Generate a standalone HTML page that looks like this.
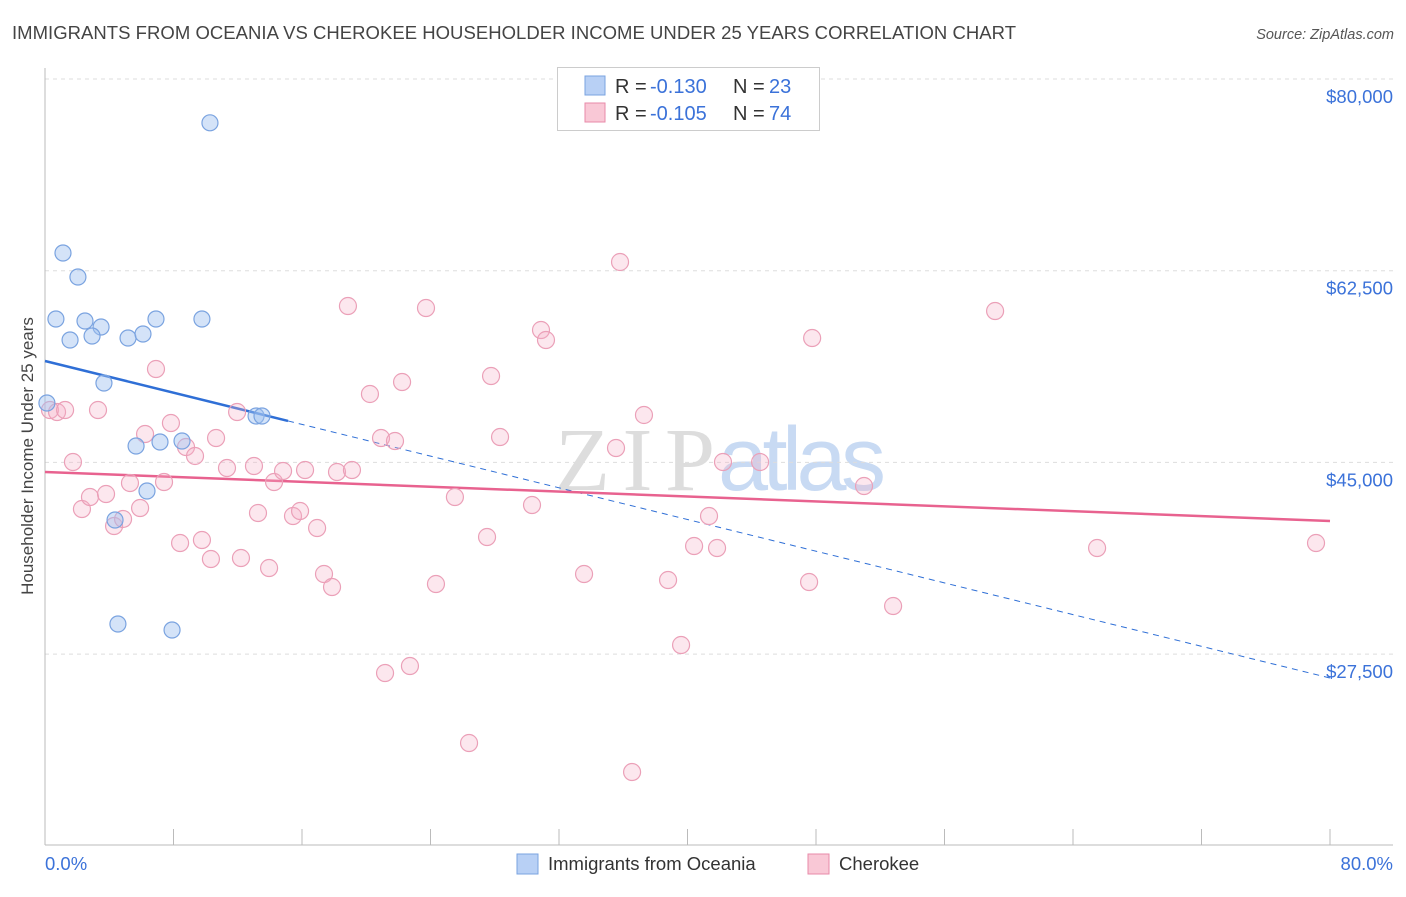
<!DOCTYPE html>
<html><head><meta charset="utf-8"><style>
body{margin:0;background:#fff;font-family:"Liberation Sans",sans-serif;}
</style></head><body>
<svg id="chart" width="1406" height="892" xmlns="http://www.w3.org/2000/svg" style="font-family:'Liberation Sans',sans-serif">
<text x="12" y="39" font-size="18.5" fill="#444" textLength="1004">IMMIGRANTS FROM OCEANIA VS CHEROKEE HOUSEHOLDER INCOME UNDER 25 YEARS CORRELATION CHART</text>
<text x="1394" y="39" font-size="14.5" fill="#555" font-style="italic" text-anchor="end">Source: ZipAtlas.com</text>
<text transform="translate(33,456) rotate(-90)" font-size="17" fill="#444" text-anchor="middle">Householder Income Under 25 years</text>
<g font-size="90">
<text x="555" y="490" fill="#ddd" font-family="Liberation Serif,serif" textLength="160">ZIP</text>
<text x="718" y="490" fill="#c8daf3" textLength="168">atlas</text>
</g>
<g id="grid"></g><g id="axes"></g><g id="trend"></g><g id="pts"></g>
<g>
<rect x="557.5" y="67.5" width="262" height="63" fill="#fff" stroke="#ccc"/>
<rect x="585" y="76" width="20" height="19" fill="#b8d0f5" stroke="#7aa3e0"/>
<rect x="585" y="103" width="20" height="19" fill="#f9c8d6" stroke="#e88aa8"/>
<text x="615" y="93" font-size="20" fill="#333">R =</text>
<text x="650" y="93" font-size="20" fill="#3b72d9">-0.130</text>
<text x="733" y="93" font-size="20" fill="#333">N =</text>
<text x="769" y="93" font-size="20" fill="#3b72d9">23</text>
<text x="615" y="120" font-size="20" fill="#333">R =</text>
<text x="650" y="120" font-size="20" fill="#3b72d9">-0.105</text>
<text x="733" y="120" font-size="20" fill="#333">N =</text>
<text x="769" y="120" font-size="20" fill="#3b72d9">74</text>
</g>
<g>
<rect x="517" y="854" width="21" height="20" fill="#b8d0f5" stroke="#7aa3e0"/>
<text x="548" y="870" font-size="18.5" fill="#333">Immigrants from Oceania</text>
<rect x="808" y="854" width="21" height="20" fill="#f9c8d6" stroke="#e88aa8"/>
<text x="839" y="870" font-size="18.5" fill="#333">Cherokee</text>
</g>
</svg>
<script>
const yTicks=[80000,62500,45000,27500];
const yTickLabels=["$80,000","$62,500","$45,000","$27,500"];
const xTickLabels=["0.0%","80.0%"];
const blueX=[10.27,1.12,2.05,0.68,2.49,3.49,6.91,9.77,1.56,2.93,5.17,6.10,3.67,0.12,13.14,13.51,5.67,7.16,8.53,6.35,4.36,4.54,7.91];
const blueY=[76000,64115,61925,58090,57908,57360,58090,58090,56173,56538,56356,56721,52248,50422,49235,49235,46497,46862,46953,42388,39741,30247,29700];
const pinkX=[0.31,0.75,1.25,3.30,1.74,2.30,2.80,3.80,4.30,4.86,5.29,5.92,6.23,6.91,7.41,7.84,8.41,8.78,9.34,9.77,10.33,10.65,11.33,11.96,12.20,13.01,13.26,13.95,14.26,14.82,15.44,15.88,16.19,16.94,17.37,17.87,18.18,18.86,19.11,20.23,20.92,21.17,21.79,22.23,22.72,23.72,24.34,25.52,26.40,27.52,27.77,28.33,30.32,30.88,31.19,33.56,35.55,35.80,36.55,37.29,38.79,39.60,40.41,41.34,41.84,42.21,44.52,47.57,47.76,50.99,52.80,59.15,65.50,79.13];
const pinkY=[49783,49600,49783,49783,45036,40745,41841,42115,39193,39832,43118,40836,47592,53526,43210,48596,37641,46405,45584,37915,36180,47227,44488,49600,36272,44671,40380,35359,43210,44214,40106,40562,44305,39011,34811,33625,44123,59277,44305,51244,47227,25773,46953,52339,26412,59094,33899,41841,19383,38189,52887,47318,41110,57086,56173,34811,46314,63294,16734,49327,34263,28330,37367,40106,37185,45036,45036,34081,56356,42845,31889,58820,37185,37641];
const blueTrend=[54257,25317];
const blueSolidEnd=15.13;
const pinkTrend=[44123,39650];

const NS="http://www.w3.org/2000/svg";
const X=v=>45+(v/80)*1285;
const Y=v=>79+(80000-v)/17500*191.7;
function mk(p,t,a){const e=document.createElementNS(NS,t);for(const k in a)e.setAttribute(k,a[k]);document.getElementById(p).appendChild(e);return e;}
yTicks.forEach((t,i)=>{
 const l=mk('grid','line',{x1:45,x2:1393,y1:Y(t),y2:Y(t),stroke:'#ddd','stroke-dasharray':'4,4'});
 
 
 const tx=mk('grid','text',{x:1393,y:Y(t)+24,'font-size':18.5,fill:'#3b72d9','text-anchor':'end'});
 tx.textContent=yTickLabels[i];
 
 
});
let a=mk('axes','line',{x1:45,x2:45,y1:68,y2:845,stroke:'#bbb'});


a=mk('axes','line',{x1:45,x2:1393,y1:845,y2:845,stroke:'#bbb'});


for(let i=0;i<=10;i++){const t=mk('axes','line',{x1:X(i*8),x2:X(i*8),y1:829,y2:845,stroke:'#bbb'});
 
 }
let xl=mk('axes','text',{x:45,y:870,'font-size':18.5,fill:'#3b72d9'});xl.textContent=xTickLabels[0];


xl=mk('axes','text',{x:1393,y:870,'font-size':18.5,fill:'#3b72d9','text-anchor':'end'});xl.textContent=xTickLabels[1];


const by=x=>blueTrend[0]+(blueTrend[1]-blueTrend[0])*x/80;
let tl=mk('trend','line',{x1:X(0),y1:Y(by(0)),x2:X(blueSolidEnd),y2:Y(by(blueSolidEnd)),stroke:'#2f6fd6','stroke-width':2.5});


tl=mk('trend','line',{x1:X(blueSolidEnd),y1:Y(by(blueSolidEnd)),x2:X(80),y2:Y(by(80)),stroke:'#2f6fd6','stroke-width':1,'stroke-dasharray':'6,5'});


tl=mk('trend','line',{x1:X(0),y1:Y(pinkTrend[0]),x2:X(80),y2:Y(pinkTrend[1]),stroke:'#e8628f','stroke-width':2.5});


pinkX.forEach((x,i)=>{const c=mk('pts','circle',{cx:X(x),cy:Y(pinkY[i]),r:8.5,fill:'rgba(246,176,198,0.3)',stroke:'#eba0b8','stroke-width':1.2});
 
 });
blueX.forEach((x,i)=>{const c=mk('pts','circle',{cx:X(x),cy:Y(blueY[i]),r:8,fill:'rgba(160,192,240,0.45)',stroke:'#7aa3e0','stroke-width':1.2});
 
 });
</script>
</body></html>
